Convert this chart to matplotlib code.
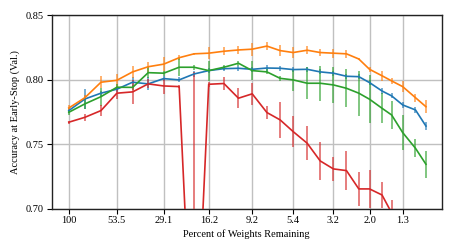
import matplotlib
matplotlib.use("Agg")
import matplotlib.pyplot as plt
from matplotlib.ticker import NullLocator, FixedLocator, FixedFormatter

plt.rcParams['font.family'] = ['Liberation Serif', 'DejaVu Serif']

# percent of weights remaining at each pruning round
pct = [100, 81.1, 65.8, 53.5, 43.6, 35.6, 29.1, 23.8, 19.6, 16.2, 13.3, 11.0,
       9.2, 7.6, 6.4, 5.4, 4.5, 3.8, 3.2, 2.7, 2.3, 2.0, 1.7, 1.5, 1.3, 1.1, 0.96]
tick_labels = ["100", "53.5", "29.1", "16.2", "9.2", "5.4", "3.2", "2.0", "1.3"]

blue = [0.776, 0.785, 0.7895, 0.7926, 0.798, 0.7967, 0.8008, 0.7998, 0.8044, 0.807,
        0.8085, 0.8088, 0.808, 0.809, 0.8088, 0.8078, 0.808, 0.806, 0.805, 0.8026,
        0.8023, 0.7977, 0.7912, 0.7874, 0.7804, 0.7765, 0.764]
blue_err = [0.002, 0.0074, 0.002, 0.002, 0.004, 0.005, 0.002, 0.002, 0.002, 0.002,
            0.002, 0.002, 0.002, 0.002, 0.002, 0.002, 0.002, 0.002, 0.002, 0.002,
            0.002, 0.002, 0.002, 0.002, 0.002, 0.002, 0.003]

orange = [0.778, 0.786, 0.798, 0.7995, 0.806, 0.810, 0.812, 0.817, 0.820, 0.8205,
          0.822, 0.823, 0.8236, 0.826, 0.8225, 0.821, 0.8228, 0.821, 0.8205, 0.820,
          0.816, 0.808, 0.803, 0.799, 0.7946, 0.786, 0.779]
orange_err = [0.0026, 0.002, 0.0045, 0.005, 0.0045, 0.004, 0.0055, 0.002, 0.001, 0.0045,
              0.003, 0.003, 0.005, 0.003, 0.004, 0.004, 0.003, 0.0026, 0.0035, 0.003,
              0.001, 0.002, 0.004, 0.002, 0.004, 0.003, 0.005]

green = [0.7747, 0.7812, 0.7868, 0.7941, 0.794, 0.8054, 0.805, 0.8096, 0.8096, 0.807,
         0.8096, 0.8127, 0.807, 0.806, 0.801, 0.7998, 0.7972, 0.7972, 0.7959, 0.7933,
         0.7895, 0.7848, 0.7778, 0.7726, 0.759, 0.7468, 0.7344]
green_err = [0.002, 0.004, 0.007, 0.0025, 0.002, 0.0045, 0.002, 0.007, 0.002, 0.0078,
             0.002, 0.002, 0.0075, 0.002, 0.002, 0.0083, 0.0125, 0.0135, 0.014, 0.0147,
             0.0174, 0.0186, 0.0116, 0.011, 0.0136, 0.0068, 0.0103]

red = [0.767, 0.7708, 0.776, 0.7895, 0.7905, 0.7967, 0.7951, 0.7946, 0.55, 0.7964,
       0.797, 0.7856, 0.789, 0.7745, 0.7688, 0.7597, 0.7507, 0.737, 0.7308, 0.7295,
       0.7153, 0.7153, 0.7106, 0.6967, 0.685, 0.675, 0.665]
red_err = [0.001, 0.0026, 0.0045, 0.0043, 0.009, 0.0035, 0.0065, 0.001, 0.256, 0.002,
           0.0052, 0.0078, 0.0084, 0.005, 0.014, 0.012, 0.013, 0.015, 0.0094, 0.015,
           0.013, 0.015, 0.01, 0.01, 0.01, 0.01, 0.01]

fig = plt.figure(figsize=(4.57, 2.52), dpi=100)
ax = fig.add_axes([0.113, 0.172, 0.854, 0.768])

series = [(blue, blue_err, '#1f77b4'), (orange, orange_err, '#ff7f0e'),
          (green, green_err, '#2ca02c'), (red, red_err, '#d62728')]
for y, e, c in series:
    line, caps, bars = ax.errorbar(pct, y, yerr=e, color=c, lw=1.2, elinewidth=1.2,
                                   ecolor=c, capsize=0, zorder=3)
    for b in bars:
        b.set_alpha(0.7)

ax.set_xscale('log')
ax.set_xlim(125, 0.78)
ax.set_ylim(0.70, 0.85)
ax.xaxis.set_major_locator(FixedLocator(pct[::3]))
ax.xaxis.set_major_formatter(FixedFormatter(tick_labels))
ax.xaxis.set_minor_locator(NullLocator())
ax.set_yticks([0.70, 0.75, 0.80, 0.85])
ax.set_yticklabels(["0.70", "0.75", "0.80", "0.85"])
ax.grid(True, color='#c0c0c0', lw=1.0, zorder=0)
ax.set_axisbelow(True)
ax.tick_params(labelsize=7.5, length=3.5, width=0.8, pad=2)
for s in ax.spines.values():
    s.set_linewidth(1.0)
    s.set_color('#222222')
ax.set_xlabel("Percent of Weights Remaining", fontsize=7.5, labelpad=3)
ax.set_ylabel("Accuracy at Early-Stop (Val.)", fontsize=7.5, labelpad=4)

fig.savefig("out.png", dpi=100)
